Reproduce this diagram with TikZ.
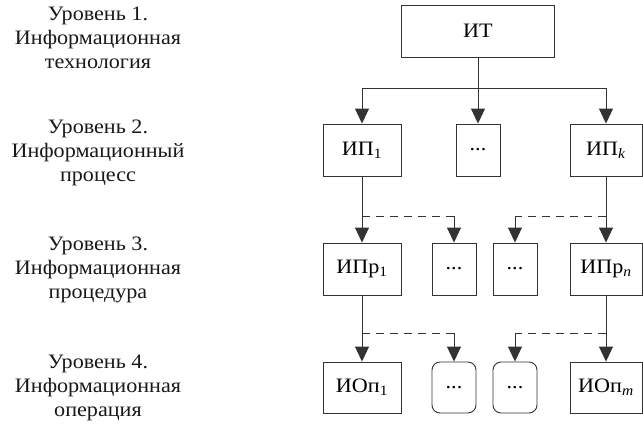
\documentclass[tikz,border=0pt]{standalone}
\usepackage{fontspec}
\setmainfont[FakeStretch=1.08]{Liberation Serif}
\usetikzlibrary{arrows.meta}
\tikzset{
  box/.style={draw=black!80, line width=0.9pt, minimum height=52pt, inner sep=0pt, font=\fontsize{20.5}{24}\selectfont},
  rbox/.style={box, rounded corners=8pt},
  lbl/.style={align=center, inner sep=0pt, font=\fontsize{20.5}{24}\selectfont, text=black!90},
  conn/.style={draw=black!80, line width=0.9pt, -{Triangle[length=15pt,width=14pt]}},
  ln/.style={draw=black!80, line width=0.9pt},
  dln/.style={draw=black!80, line width=0.9pt, dash pattern=on 8pt off 6pt},
}
\begin{document}
\begin{tikzpicture}[x=1pt,y=-1pt]
\useasboundingbox (0,0) rectangle (643,424);
% labels
\node[lbl] (L1) at (98,38) {Уровень 1.\\Информационная\\технология};
\node[lbl] (L2) at (98,153) {Уровень 2.\\Информационный\\процесс};
\node[lbl] (L3) at (98,270) {Уровень 3.\\Информационная\\процедура};
\node[lbl] (L4) at (98,388) {Уровень 4.\\Информационная\\операция};
% level 1
\node[box, minimum width=153pt] (IT) at (478,31) {ИТ};
% level 2
\node[box, minimum width=78pt] (P1) at (362,150) {ИП\textsubscript{1}};
\node[box, minimum width=44pt] (D2) at (478,150) {...};
\node[box, minimum width=72pt] (Pk) at (606,150) {ИП\textsubscript{\textit{k}}};
% level 3
\node[box, minimum width=78pt] (Pr1) at (362,269) {ИПр\textsubscript{1}};
\node[box, minimum width=44pt] (Da) at (454,269) {...};
\node[box, minimum width=44pt] (Db) at (515,269) {...};
\node[box, minimum width=72pt] (Prn) at (606,269) {ИПр\textsubscript{\textit{n}}};
% level 4
\node[box, minimum width=78pt, minimum height=51pt] (O1) at (362,387.5) {ИОп\textsubscript{1}};
\node[rbox, minimum width=44pt, minimum height=51pt] (Ra) at (454,387.5) {...};
\node[rbox, minimum width=44pt, minimum height=51pt] (Rb) at (515,387.5) {...};
\node[box, minimum width=72pt, minimum height=51pt] (Om) at (606,387.5) {ИОп\textsubscript{\textit{m}}};
% coordinates
\coordinate (b1) at (478,88);
\coordinate (d3) at (478,216);
\coordinate (d4) at (478,333);
% level 1 -> 2
\draw[conn] (IT.south) -- (D2.north);
\draw[ln] (b1 -| P1.north) -- (b1 -| Pk.north);
\draw[conn] (b1 -| P1.north) -- (P1.north);
\draw[conn] (b1 -| Pk.north) -- (Pk.north);
% level 2 -> 3
\draw[conn] (P1.south) -- (Pr1.north);
\draw[conn] (Pk.south) -- (Prn.north);
\draw[dln] (d3 -| P1.south) -- (d3 -| Da.north);
\draw[conn] (d3 -| Da.north) -- (Da.north);
\draw[dln] (d3 -| Pk.south) -- (d3 -| Db.north);
\draw[conn] (d3 -| Db.north) -- (Db.north);
% level 3 -> 4
\draw[conn] (Pr1.south) -- (O1.north);
\draw[conn] (Prn.south) -- (Om.north);
\draw[dln] (d4 -| Pr1.south) -- (d4 -| Ra.north);
\draw[conn] (d4 -| Ra.north) -- (Ra.north);
\draw[dln] (d4 -| Prn.south) -- (d4 -| Rb.north);
\draw[conn] (d4 -| Rb.north) -- (Rb.north);
\end{tikzpicture}
\end{document}
